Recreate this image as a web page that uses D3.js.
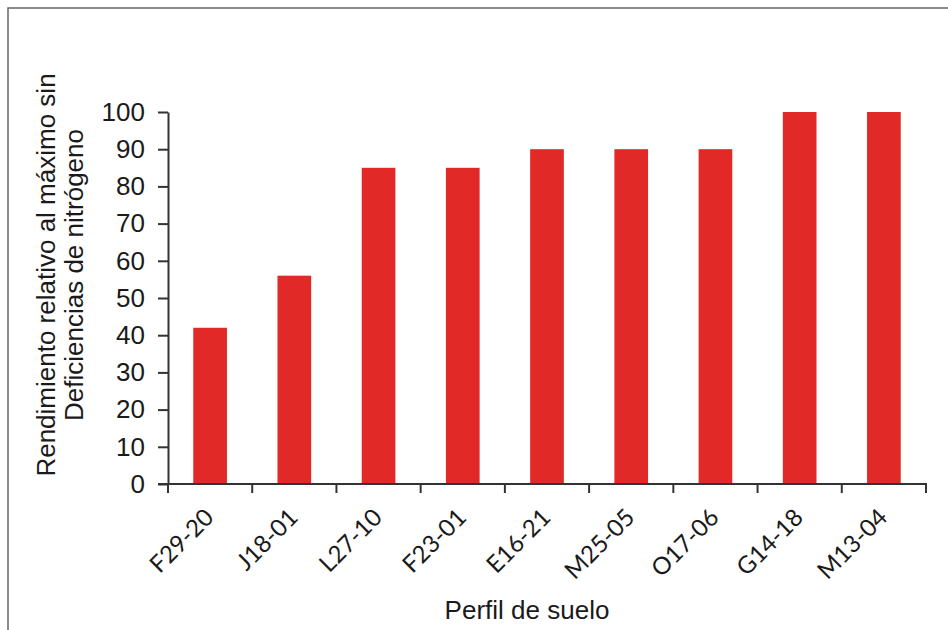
<!DOCTYPE html>
<html>
<head>
<meta charset="utf-8">
<script src="https://cdn.jsdelivr.net/npm/d3@7"></script>
<style>
  body { margin: 0; background: #fff; }
  svg { display: block; }
</style>
</head>
<body>
<svg id="chart" width="948" height="630"></svg>
<script>
// data
var profiles = ["F29-20", "J18-01", "L27-10", "F23-01", "E16-21", "M25-05", "O17-06", "G14-18", "M13-04"];
var yieldValues = [42, 56, 85, 85, 90, 90, 90, 100, 100];
var yTicks = [0, 10, 20, 30, 40, 50, 60, 70, 80, 90, 100];
var yTitleLines = ["Rendimiento relativo al máximo sin", "Deficiencias de nitrógeno"];
var xTitle = "Perfil de suelo";

var svg = d3.select("#chart");
var plotLeft = 168, plotRight = 926, plotTop = 112, plotBottom = 484;

// frame (only top and left edges visible in the crop)
svg.append("path")
  .attr("d", "M8,630 L8,8 L948,8")
  .attr("fill", "none")
  .attr("stroke", "#666")
  .attr("stroke-width", 1.5);

var x = d3.scaleBand()
  .domain(profiles)
  .range([plotLeft, plotRight])
  .paddingInner(0.6)
  .paddingOuter(0.3);

var y = d3.scaleLinear()
  .domain([0, 100])
  .range([plotBottom, plotTop]);

// bars
svg.selectAll("rect.bar")
  .data(profiles)
  .enter().append("rect")
  .attr("class", "bar")
  .attr("x", function(d) { return x(d); })
  .attr("width", x.bandwidth())
  .attr("y", function(d, i) { return y(yieldValues[i]); })
  .attr("height", function(d, i) { return plotBottom - y(yieldValues[i]); })
  .attr("fill", "#e12a27");

// y axis
var yAxis = svg.append("g")
  .attr("transform", "translate(" + plotLeft + ",0)")
  .call(d3.axisLeft(y).tickValues(yTicks).tickSize(10).tickPadding(13).tickSizeOuter(0));
yAxis.select(".domain").attr("stroke", "#333").attr("stroke-width", 2);
yAxis.selectAll(".tick line").attr("stroke", "#333").attr("stroke-width", 2);
yAxis.selectAll(".tick text")
  .attr("fill", "#1a1a1a")
  .style("font-family", "'Liberation Sans', Arial, sans-serif")
  .style("font-size", "26px");

// x axis: ticks sit on band boundaries
var edges = d3.range(profiles.length + 1).map(function(i) {
  return plotLeft + i * (plotRight - plotLeft) / profiles.length;
});
var xg = svg.append("g");
xg.append("line")
  .attr("x1", plotLeft - 10).attr("x2", plotRight + 1)
  .attr("y1", plotBottom).attr("y2", plotBottom)
  .attr("stroke", "#333").attr("stroke-width", 2);
xg.selectAll("line.tk")
  .data(edges)
  .enter().append("line")
  .attr("class", "tk")
  .attr("x1", function(d) { return d; }).attr("x2", function(d) { return d; })
  .attr("y1", plotBottom).attr("y2", plotBottom + 9)
  .attr("stroke", "#333").attr("stroke-width", 2);

xg.selectAll("text.lbl")
  .data(profiles)
  .enter().append("text")
  .attr("class", "lbl")
  .attr("transform", function(d) {
    return "translate(" + (x(d) + x.bandwidth() / 2 + 5) + "," + (plotBottom + 35) + ") rotate(-45)";
  })
  .attr("text-anchor", "end")
  .attr("fill", "#1a1a1a")
  .style("font-family", "Lato, 'Open Sans', sans-serif")
  .style("font-size", "24px")
  .text(function(d) { return d; });

// titles
svg.selectAll("text.ytitle")
  .data(yTitleLines)
  .enter().append("text")
  .attr("class", "ytitle")
  .attr("transform", function(d, i) { return "translate(" + (55 + i * 28) + ",275) rotate(-90)"; })
  .attr("text-anchor", "middle")
  .attr("fill", "#1a1a1a")
  .style("font-family", "'Liberation Sans', Arial, sans-serif")
  .style("font-size", "26px")
  .text(function(d) { return d; });

svg.append("text")
  .attr("x", 527)
  .attr("y", 619)
  .attr("text-anchor", "middle")
  .attr("fill", "#1a1a1a")
  .style("font-family", "'Liberation Sans', Arial, sans-serif")
  .style("font-size", "26px")
  .text(xTitle);
</script>
</body>
</html>
